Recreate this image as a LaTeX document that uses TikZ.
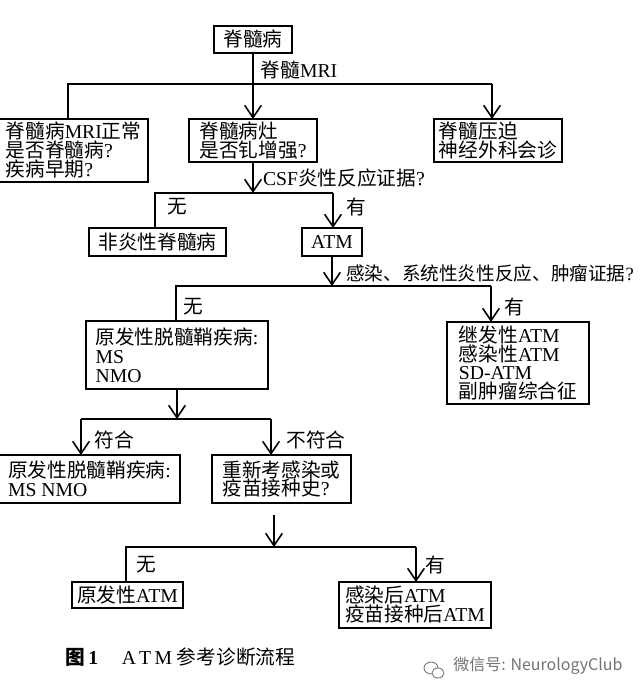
\documentclass[tikz,border=0pt]{standalone}
\usepackage{fontspec}
\setmainfont{Liberation Serif}
\newfontfamily\cjk{Noto Sans CJK SC}
\usetikzlibrary{arrows.meta, positioning}
\tikzset{
  flowbox/.style={draw,line width=0.7pt,inner sep=0pt,outer sep=0pt,align=left,font=\fontsize{11.2}{10.8}\selectfont},
  flowlabel/.style={inner sep=0pt,font=\fontsize{11.2}{12}\selectfont},
  flowline/.style={line width=0.7pt},
  flowarrow/.style={line width=0.7pt,-{Straight Barb[length=7pt,width=9.5pt,line width=0.9pt]}}
}
\begin{document}
\begin{tikzpicture}[x=0.02cm,y=-0.02cm]
\useasboundingbox (0,0) rectangle (640,696);

\node[flowbox,minimum width=1.56cm,minimum height=0.54cm] (top) at (253,39.5) {{\cjk 脊髓病}};
\node[flowbox,minimum width=2.98cm,minimum height=1.26cm] (normal) at (73.5,150.5) {{\cjk 脊髓病}MRI{\cjk 正常}\\{\cjk 是否脊髓病}?\\{\cjk 疾病早期}?};
\node[flowbox,minimum width=2.56cm,minimum height=0.86cm] (lesion) at (253,140.5) {{\cjk 脊髓病灶}\hspace{2.2em}\\{\cjk 是否钆增强}?};
\node[flowbox,minimum width=2.56cm,minimum height=0.86cm] (compress) at (498,140.5) {{\cjk 脊髓压迫}\hspace{2em}\\{\cjk 神经外科会诊}};
\node[flowbox,minimum width=2.74cm,minimum height=0.56cm] (noninfl) at (157.5,242) {{\cjk 非炎性脊髓病}};
\node[flowbox,minimum width=1.2cm,minimum height=0.56cm] (atm) at (332,242) {ATM};
\node[flowbox,minimum width=3.64cm,minimum height=1.36cm] (demyel) at (177,355) {{\cjk 原发性脱髓鞘疾病}:\\MS\\NMO};
\node[flowbox,minimum width=2.84cm,minimum height=1.64cm] (second) at (518,363) {{\cjk 继发性}ATM\\{\cjk 感染性}ATM\\SD-ATM\\{\cjk 副肿瘤综合征}};
\node[flowbox,minimum width=3.62cm,minimum height=0.96cm] (match) at (89.5,479) {{\cjk 原发性脱髓鞘疾病}:\\MS NMO\hspace{5.6em}};
\node[flowbox,minimum width=2.78cm,minimum height=0.96cm] (recheck) at (281.5,479) {{\cjk 重新考感染或}\\{\cjk 疫苗接种史}?};
\node[flowbox,minimum width=2.22cm,minimum height=0.52cm] (primary) at (127.5,595) {{\cjk 原发性}ATM};
\node[flowbox,minimum width=3.04cm,minimum height=0.92cm] (postinf) at (415,605) {{\cjk 感染后}ATM\hspace{2.6em}\\{\cjk 疫苗接种后}ATM};

\node[flowlabel] (lblmri) at (299,70) {{\cjk 脊髓}MRI};
\node[flowlabel] (lblcsf) at (344,178) {CSF{\cjk 炎性反应证据}?};
\node[flowlabel] (lblno1) at (177,207) {{\cjk 无}};
\node[flowlabel] (lblyes1) at (356,207) {{\cjk 有}};
\node[flowlabel,font=\fontsize{10.6}{12}\selectfont] (lblinf) at (490,273) {{\cjk 感染、系统性炎性反应、肿瘤证据}?};
\node[flowlabel] (lblno2) at (193,307) {{\cjk 无}};
\node[flowlabel] (lblyes2) at (514,307) {{\cjk 有}};
\node[flowlabel] (lblfit) at (114,440) {{\cjk 符合}};
\node[flowlabel] (lblunfit) at (316,440) {{\cjk 不符合}};
\node[flowlabel] (lblno3) at (146,565) {{\cjk 无}};
\node[flowlabel] (lblyes3) at (435,565) {{\cjk 有}};
\node[flowlabel,anchor=west] (caption) at (65,657) {{\cjk\bfseries 图}\,\textbf{1}\hspace{1.2em}A\,T\,M {\cjk 参考诊断流程}};
\node[flowlabel,anchor=west,text=black!55] (wmark) at (453,666) {{\cjk\fontsize{9.1}{11}\selectfont 微信号: NeurologyClub}};

\coordinate (b1l) at (68,84);
\coordinate (b1r) at (492,84);
\coordinate (b2l) at (155,193);
\coordinate (b2r) at (333,193);
\coordinate (b3l) at (176,286);
\coordinate (b3r) at (491,286);
\coordinate (b4l) at (81,419);
\coordinate (b4r) at (271,419);
\coordinate (b5l) at (126,547);
\coordinate (b5r) at (416,547);
\coordinate (free) at (274,515);

\draw[flowarrow] (top.south) -- (lesion.north);
\draw[flowline] (b1l |- normal.north) -- (b1l) -- (b1r);
\draw[flowarrow] (b1r) -- (b1r |- compress.north);

\draw[flowarrow] (lesion.south) -- (lesion.south |- b2l);
\draw[flowline] (b2l |- noninfl.north) -- (b2l) -- (b2r);
\draw[flowarrow] (b2r) -- (b2r |- atm.north);

\draw[flowarrow] (atm.south) -- (atm.south |- b3l);
\draw[flowline] (b3l |- demyel.north) -- (b3l) -- (b3r);
\draw[flowarrow] (b3r) -- (b3r |- second.north);

\draw[flowarrow] (demyel.south) -- (demyel.south |- b4l);
\draw[flowline] (b4l) -- (b4r);
\draw[flowarrow] (b4l) -- (b4l |- match.north);
\draw[flowarrow] (b4r) -- (b4r |- recheck.north);

\draw[flowarrow] (free) -- (free |- b5l);
\draw[flowline] (b5l |- primary.north) -- (b5l) -- (b5r);
\draw[flowarrow] (b5r) -- (b5r |- postinf.north);

\draw[black!55,line width=0.5pt] (431,668) ellipse (7 and 6);
\draw[black!55,line width=0.5pt,fill=white] (438,673) ellipse (6 and 5);
\end{tikzpicture}
\end{document}
